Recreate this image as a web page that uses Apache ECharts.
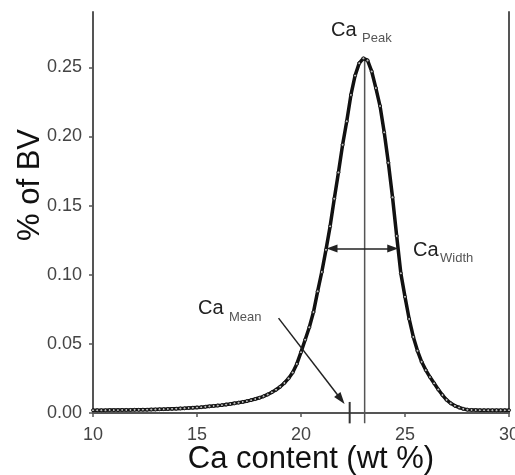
<!DOCTYPE html>
<html>
<head>
<meta charset="utf-8">
<title>Ca content distribution</title>
<script src="https://cdn.jsdelivr.net/npm/echarts@6/dist/echarts.min.js"></script>
<style>
  html, body { margin: 0; padding: 0; background: #fff; overflow: hidden; }
  #chart { width: 515px; height: 475px; }
</style>
</head>
<body>
<div id="chart"></div>
<script>
// Calcium content (wt %) bins
const caContent = [
  10.0, 10.2, 10.4, 10.6, 10.8, 11.0, 11.2, 11.4, 11.6, 11.8,
  12.0, 12.2, 12.4, 12.6, 12.8, 13.0, 13.2, 13.4, 13.6, 13.8,
  14.0, 14.2, 14.4, 14.6, 14.8, 15.0, 15.2, 15.4, 15.6, 15.8,
  16.0, 16.2, 16.4, 16.6, 16.8, 17.0, 17.2, 17.4, 17.6, 17.8,
  18.0, 18.2, 18.4, 18.6, 18.8, 19.0, 19.2, 19.4, 19.6, 19.8,
  20.0, 20.2, 20.4, 20.6, 20.8, 21.0, 21.2, 21.4, 21.6, 21.8,
  22.0, 22.2, 22.4, 22.6, 22.8, 23.0, 23.2, 23.4, 23.6, 23.8,
  24.0, 24.2, 24.4, 24.6, 24.8, 25.0, 25.2, 25.4, 25.6, 25.8,
  26.0, 26.2, 26.4, 26.6, 26.8, 27.0, 27.2, 27.4, 27.6, 27.8,
  28.0, 28.2, 28.4, 28.6, 28.8, 29.0, 29.2, 29.4, 29.6, 29.8,
  30.0
];

// Fraction of bone volume in each bin
const pctBV = [
  0.0020, 0.0020, 0.0020, 0.0020, 0.0021, 0.0021, 0.0021, 0.0022, 0.0022, 0.0022,
  0.0023, 0.0023, 0.0024, 0.0024, 0.0025, 0.0026, 0.0027, 0.0028, 0.0029, 0.0030,
  0.0031, 0.0033, 0.0034, 0.0036, 0.0038, 0.0040, 0.0042, 0.0045, 0.0048, 0.0051,
  0.0054, 0.0057, 0.0061, 0.0065, 0.0070, 0.0075, 0.0080, 0.0086, 0.0093, 0.0101,
  0.0110, 0.0121, 0.0134, 0.0150, 0.0168, 0.0190, 0.0217, 0.0250, 0.0293, 0.0355,
  0.0440, 0.0530, 0.0620, 0.0730, 0.0880, 0.1020, 0.1180, 0.1350, 0.1550, 0.1740,
  0.1940, 0.2110, 0.2300, 0.2440, 0.2530, 0.2565, 0.2550, 0.2470, 0.2350, 0.2220,
  0.2030, 0.1810, 0.1560, 0.1280, 0.1010, 0.0840, 0.0680, 0.0550, 0.0450, 0.0370,
  0.0310, 0.0260, 0.0215, 0.0170, 0.0130, 0.0095, 0.0070, 0.0052, 0.0040, 0.0030,
  0.0024, 0.0022, 0.0021, 0.0020, 0.0020, 0.0020, 0.0020, 0.0020, 0.0020, 0.0020,
  0.0020
];

// Axis ticks
const xTicks = [10, 15, 20, 25, 30];
const yTicks = [0.00, 0.05, 0.10, 0.15, 0.20, 0.25];

// Summary parameters of the distribution
const caPeak = [23.06, 0.2565];
const caMean = 22.34;
// Width arrow: endpoints at the arrowhead centres, at the half-height level
const caWidth = [21.49, 24.41, 0.119];
// Pointer towards the mean marker (start, arrowhead centre)
const meanArrow = [[18.92, 0.0686], [21.92, 0.0099]];

const FONT = "'Liberation Sans', Arial, Helvetica, sans-serif";
const AXIS_COLOR = '#555';

const chart = echarts.init(document.getElementById('chart'), null, { renderer: 'canvas' });

const curve = caContent.map((x, i) => [x, pctBV[i]]);

chart.setOption({
  animation: false,
  backgroundColor: '#fff',
  grid: { left: 93, right: 6, top: 12, bottom: 62, containLabel: false, outerBoundsMode: 'none' },
  xAxis: {
    type: 'value',
    min: 10,
    max: 30,
    interval: 5,
    axisLine: { show: true, lineStyle: { color: AXIS_COLOR, width: 2 } },
    axisTick: { show: true, inside: false, length: 4, customValues: xTicks,
                lineStyle: { color: AXIS_COLOR, width: 1.5 } },
    axisLabel: { customValues: xTicks, fontSize: 18, color: '#444', fontFamily: FONT, margin: 13,
                 hideOverlap: false },
    splitLine: { show: false }
  },
  yAxis: [
    {
      type: 'value',
      min: 0,
      max: 0.29,
      position: 'left',
      axisLine: { show: true, lineStyle: { color: AXIS_COLOR, width: 2 } },
      axisTick: { show: true, inside: false, length: 4, customValues: yTicks,
                  lineStyle: { color: AXIS_COLOR, width: 1.5 } },
      axisLabel: { customValues: yTicks, fontSize: 18, color: '#444', fontFamily: FONT, margin: 11,
                   formatter: v => v.toFixed(2) },
      splitLine: { show: false }
    },
    {
      type: 'value',
      min: 0,
      max: 0.29,
      position: 'right',
      axisLine: { show: true, lineStyle: { color: AXIS_COLOR, width: 2 } },
      axisTick: { show: false },
      axisLabel: { show: false },
      splitLine: { show: false }
    }
  ],
  series: [
    {
      name: 'distribution',
      type: 'line',
      data: curve,
      silent: true,
      showSymbol: true,
      symbol: 'circle',
      symbolSize: 3,
      itemStyle: { color: '#bbb', borderColor: '#111', borderWidth: 1 },
      lineStyle: { color: '#111', width: 3.5 },
      z: 3
    },
    {
      name: 'peak',
      type: 'line',
      data: [[caPeak[0], -0.0075], [caPeak[0], caPeak[1]]],
      clip: false,
      silent: true,
      symbol: 'none',
      lineStyle: { color: '#555', width: 1.5 },
      z: 2,
      markLine: {
        silent: true,
        animation: false,
        label: { show: false },
        lineStyle: { color: '#222', width: 1.5, type: 'solid' },
        data: [
          [
            { coord: [caWidth[0], caWidth[2]], symbol: 'triangle', symbolSize: [8, 11] },
            { coord: [caWidth[1], caWidth[2]], symbol: 'triangle', symbolSize: [8, 11] }
          ],
          [
            { coord: meanArrow[0], symbol: 'none' },
            { coord: meanArrow[1], symbol: 'triangle', symbolSize: [8, 12] }
          ]
        ]
      }
    },
    {
      name: 'mean',
      type: 'line',
      data: [[caMean, 0.008], [caMean, -0.0075]],
      clip: false,
      silent: true,
      symbol: 'none',
      lineStyle: { color: '#333', width: 2 },
      z: 2
    }
  ],
  graphic: [
    { type: 'text', x: 30, y: 185, rotation: Math.PI / 2,
      style: { text: '% of BV', font: '31px ' + FONT, fill: '#111', align: 'center', verticalAlign: 'middle' } },
    { type: 'text', x: 311, y: 459,
      style: { text: 'Ca content (wt %)', font: '31px ' + FONT, fill: '#111', align: 'center', verticalAlign: 'middle' } },

    { type: 'text', x: 331, y: 30,
      style: { text: 'Ca', font: '20px ' + FONT, fill: '#222', align: 'left', verticalAlign: 'middle' } },
    { type: 'text', x: 362, y: 38,
      style: { text: 'Peak', font: '13px ' + FONT, fill: '#555', align: 'left', verticalAlign: 'middle' } },

    { type: 'text', x: 198, y: 308,
      style: { text: 'Ca', font: '20px ' + FONT, fill: '#222', align: 'left', verticalAlign: 'middle' } },
    { type: 'text', x: 229, y: 317,
      style: { text: 'Mean', font: '13px ' + FONT, fill: '#555', align: 'left', verticalAlign: 'middle' } },

    { type: 'text', x: 413, y: 250,
      style: { text: 'Ca', font: '20px ' + FONT, fill: '#222', align: 'left', verticalAlign: 'middle' } },
    { type: 'text', x: 440, y: 258,
      style: { text: 'Width', font: '13px ' + FONT, fill: '#555', align: 'left', verticalAlign: 'middle' } }
  ]
});
</script>
</body>
</html>
